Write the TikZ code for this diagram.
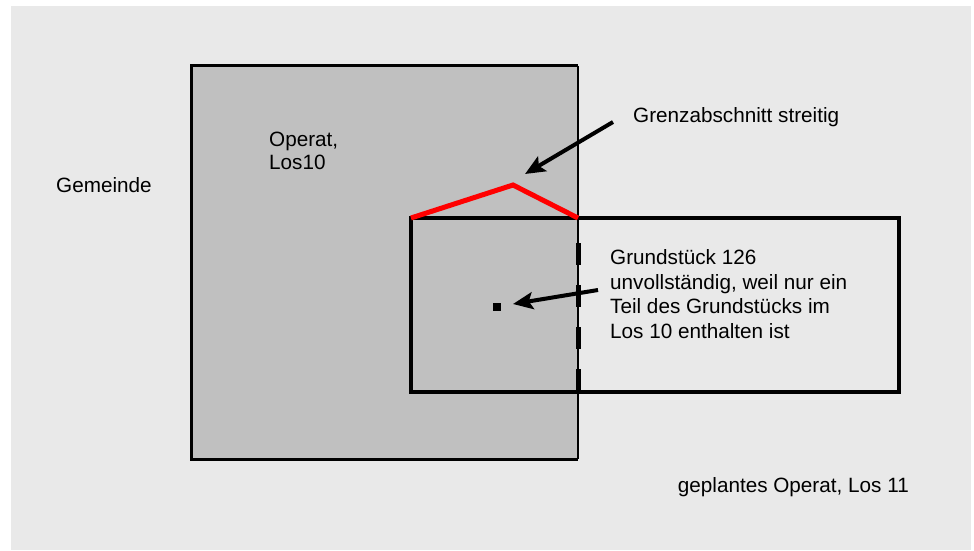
\documentclass[tikz,border=0pt]{standalone}
\usepackage{fontspec}
\setmainfont{Liberation Sans}
\usetikzlibrary{arrows.meta}

\definecolor{hintergrund}{RGB}{233,233,233}
\definecolor{operatgrau}{RGB}{192,192,192}

\tikzset{
  pfeil/.style={line width=4pt, -{Stealth[length=20pt,width=17pt,inset=4pt]}},
  beschriftung/.style={inner sep=0pt, anchor=base west, align=left,
    font=\fontsize{20.7}{24.5}\selectfont},
}

\begin{document}
\begin{tikzpicture}[x=1pt, y=-1pt]
  \useasboundingbox (0,0) rectangle (974,551);
  \fill[hintergrund] (11,6) rectangle (971,550);
  % Operat, Los 10
  \fill[operatgrau] (191,66) rectangle (578,459);
  \draw[line width=3pt] (578,66) -- (191,66) -- (191,459) -- (578,459);
  \draw[line width=1.2pt] (578,66) -- (578,459);
  % geplantes Operat, Los 11
  \draw[line width=4pt] (411,218) rectangle (899,392);
  \draw[line width=5pt, dash pattern=on 22pt off 20pt] (578,243) -- (578,392);
  % streitiger Grenzabschnitt
  \coordinate (knick) at (513,185);
  \draw[red, line width=5pt] (411,218) -- (knick) -- (578,218);
  % Grundstueck 126
  \node[fill, minimum size=8pt, inner sep=0pt] (punkt) at (497,307) {};

  \node[beschriftung] (gemeinde) at (56,192) {Gemeinde};
  \node[beschriftung] (los10) at (269,169) {Operat,\\[-2.3pt]Los10};
  \node[beschriftung] (grenz) at (633,122) {Grenzabschnitt streitig};
  \node[beschriftung] (gst) at (610,338) {Grundstück 126\\unvollständig, weil nur ein\\Teil des Grundstücks im\\Los 10 enthalten ist};
  \node[beschriftung, anchor=base east] (los11) at (909,492) {geplantes Operat, Los 11};

  \draw[pfeil] ([xshift=-20pt]grenz.base west) -- ([shift={(12,-11)}]knick);
  \draw[pfeil] ([shift={(-12,-48)}]gst.base west) -- ([shift={(16,-3)}]punkt.center);
\end{tikzpicture}
\end{document}
